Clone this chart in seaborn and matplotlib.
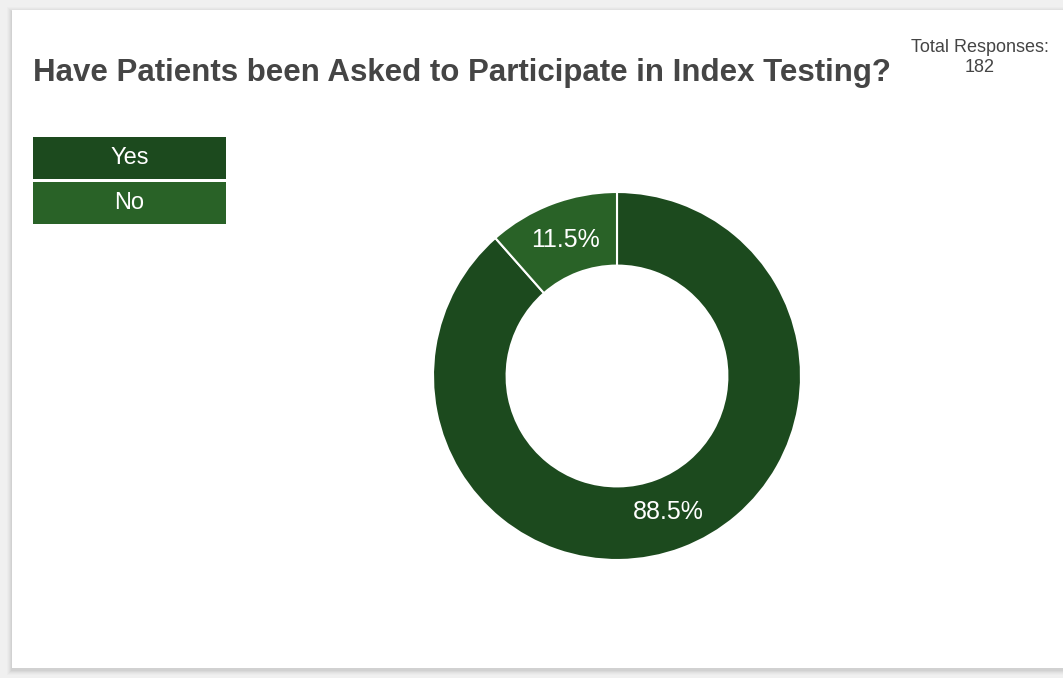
import matplotlib
matplotlib.use("Agg")
import matplotlib.pyplot as plt
import seaborn as sns
from matplotlib.patches import Rectangle

categories = ["Yes", "No"]
values = [88.5, 11.5]
colors = ["#1c4a1e", "#296227"]
title = "Have Patients been Asked to Participate in Index Testing?"
total_label = "Total Responses:"
total_value = "182"

sns.set_theme(style="white")
plt.rcParams['font.family'] = ['Liberation Sans', 'DejaVu Sans']

W, H = 1063, 678
fig = plt.figure(figsize=(W / 100, H / 100), dpi=100)
fig.patch.set_facecolor("#f0f0f0")

# card with soft shadow
for i, a in enumerate([0.015, 0.02, 0.025, 0.03, 0.035]):
    off = (5 - i)
    fig.patches.append(Rectangle(((12 - off) / W, (678 - 668 - off - 2) / H),
                                 (1100 - 12 + 2 * off) / W, (668 - 10 + 2 * off) / H,
                                 transform=fig.transFigure, facecolor="black",
                                 edgecolor="none", alpha=a, zorder=0))
fig.patches.append(Rectangle((12 / W, (678 - 668) / H), (1100 - 12) / W, (668 - 10) / H,
                             transform=fig.transFigure, facecolor="white",
                             edgecolor="none", zorder=1))

# donut
cx, cy, r = 617, 376, 184
ax = fig.add_axes([(cx - r) / W, (H - cy - r) / H, 2 * r / W, 2 * r / H])
ax.set_zorder(2)
wedges, texts, autotexts = ax.pie(
    values, colors=colors, startangle=90, counterclock=False,
    autopct="%.1f%%", pctdistance=0.79, radius=1.0,
    wedgeprops=dict(width=0.4, edgecolor="white", linewidth=1.5),
    textprops=dict(color="white", fontsize=18))
ax.set_xlim(-1.0, 1.0)
ax.set_ylim(-1.0, 1.0)
ax.set_aspect("equal")
ax.axis("off")

# title
fig.text(33 / W, 1 - 73 / H, title, fontsize=22.5, fontweight="bold",
         color="#454545", ha="left", va="center", zorder=3)
fig.text(980 / W, 1 - 47 / H, total_label, fontsize=13, color="#444444",
         ha="center", va="center", zorder=3)
fig.text(980 / W, 1 - 67 / H, total_value, fontsize=13, color="#444444",
         ha="center", va="center", zorder=3)

# legend boxes
box_x0, box_x1 = 33, 226
rows = [(137, 179), (182, 224)]
for (y0, y1), lab, col in zip(rows, categories, colors):
    fig.patches.append(Rectangle((box_x0 / W, 1 - y1 / H), (box_x1 - box_x0) / W,
                                 (y1 - y0) / H, transform=fig.transFigure,
                                 facecolor=col, edgecolor="none", zorder=3))
    fig.text((box_x0 + box_x1) / 2 / W, 1 - (y0 + y1) / 2 / H, lab, color="white",
             fontsize=17, ha="center", va="center", zorder=4)

fig.savefig("out.png", dpi=100, facecolor=fig.get_facecolor())
